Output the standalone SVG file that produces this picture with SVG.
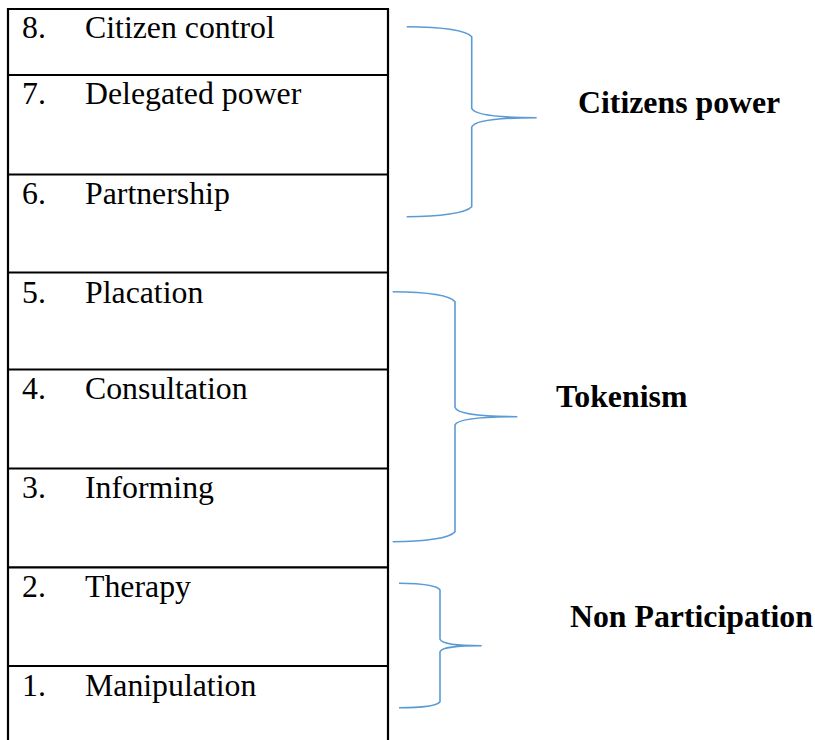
<svg xmlns="http://www.w3.org/2000/svg" width="815" height="740" viewBox="0 0 815 740">
<style>
.cell{fill:none;stroke:#000;stroke-width:2.2}
.t{font-family:"Liberation Serif","Times New Roman",serif;font-size:31.8px;fill:#000}
.lab{font-family:"Liberation Serif","Times New Roman",serif;font-size:31.8px;font-weight:bold;fill:#000}
.brace{fill:none;stroke:#5b9bd5;stroke-width:1.6}
</style>
<rect width="815" height="740" fill="#fff"/>
<g id="table">
<path class="cell" d="M8,9 H388 M8,75 H388 M8,174.5 H388 M8,272.5 H388 M8,369.5 H388 M8,468.5 H388 M8,567.3 H388 M8,666 H388 M8,8 V742 M388,8 V742"/>
</g>
<g id="row8"><text class="t" x="22" y="37.5">8.</text><text class="t" x="85" y="37.5">Citizen control</text></g>
<g id="row7"><text class="t" x="22" y="104">7.</text><text class="t" x="85" y="104">Delegated power</text></g>
<g id="row6"><text class="t" x="22" y="204">6.</text><text class="t" x="85" y="204">Partnership</text></g>
<g id="row5"><text class="t" x="22" y="302.5">5.</text><text class="t" x="85" y="302.5">Placation</text></g>
<g id="row4"><text class="t" x="22" y="398.5">4.</text><text class="t" x="85" y="398.5">Consultation</text></g>
<g id="row3"><text class="t" x="22" y="498">3.</text><text class="t" x="85" y="498">Informing</text></g>
<g id="row2"><text class="t" x="22" y="596.5">2.</text><text class="t" x="85" y="596.5">Therapy</text></g>
<g id="row1"><text class="t" x="22" y="696">1.</text><text class="t" x="85" y="696">Manipulation</text></g>
<g id="connectors">
<path class="brace" d="M406.7,26.7 C440,27 466,30 471.7,36.7 V108.3 C474,115 500,117.7 536.7,117.7 C500,117.7 474,120 471.7,127.3 V206.7 C466,213 440,216.7 406.7,216.7"/>
<path class="brace" d="M392.7,291.7 C425,292 450,295 455,301.7 V407.3 C457,414 480,416.7 517.3,416.7 C480,416.7 457,419 455,425 V531.7 C450,538 425,541.7 392.7,541.7"/>
<path class="brace" d="M399,583.3 C420,583.5 437,585 440,590 V639.3 C442,644 455,645.7 481.7,645.7 C455,645.7 442,647 440,651.7 V701.7 C437,706 420,707.7 399,707.7"/>
</g>
<g id="citizens-power"><text class="lab" x="578" y="112.7">Citizens power</text></g>
<g id="tokenism"><text class="lab" x="556" y="406.7">Tokenism</text></g>
<g id="non-participation"><text class="lab" x="570" y="626.7">Non Participation</text></g>
</svg>
